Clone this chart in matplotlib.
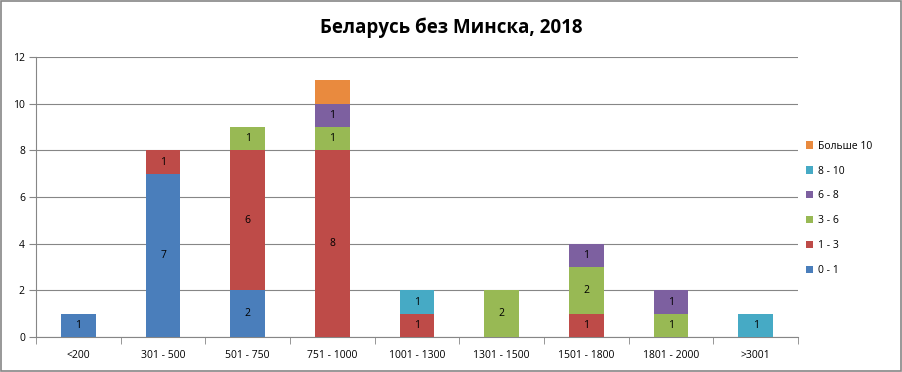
import matplotlib.pyplot as plt
import numpy as np

plt.rcParams['font.family'] = ['Open Sans', 'DejaVu Sans']

categories = ['<200', '301 - 500', '501 - 750', '751 - 1000', '1001 - 1300',
              '1301 - 1500', '1501 - 1800', '1801 - 2000', '>3001']
series_names = ['0 - 1', '1 - 3', '3 - 6', '6 - 8', '8 - 10', 'Больше 10']
s_0_1 = [1, 7, 2, 0, 0, 0, 0, 0, 0]
s_1_3 = [0, 1, 6, 8, 1, 0, 1, 0, 0]
s_3_6 = [0, 0, 1, 1, 0, 2, 2, 1, 0]
s_6_8 = [0, 0, 0, 1, 0, 0, 1, 1, 0]
s_8_10 = [0, 0, 0, 0, 1, 0, 0, 0, 1]
s_10p = [0, 0, 0, 1, 0, 0, 0, 0, 0]
series = [s_0_1, s_1_3, s_3_6, s_6_8, s_8_10, s_10p]
show_labels = [True, True, True, True, True, False]

colors = ['#4A7EBB', '#BE4B48', '#98B954', '#7D60A0', '#46AAC5', '#E98A3E']

fig = plt.figure(figsize=(9.03, 3.72), dpi=100)
ax = fig.add_axes([0.0399, 0.094, 0.8438, 0.7528])

x = np.arange(len(categories))
bottom = np.zeros(len(categories))
handles = []
for vals, name, col, lab in zip(series, series_names, colors, show_labels):
    vals = np.array(vals, dtype=float)
    b = ax.bar(x, vals, 0.41, bottom=bottom, color=col, label=name, zorder=3)
    handles.append(b)
    if lab:
        for xi, v, bt in zip(x, vals, bottom):
            if v > 0:
                ax.text(xi, bt + v / 2, f'{int(v)}', ha='center', va='center',
                        fontsize=7.5, color='black', zorder=4)
    bottom += vals

ax.set_xlim(-0.5, len(categories) - 0.5)
ax.set_ylim(0, 12)
ax.set_yticks(range(0, 13, 2))
ax.set_xticks(x)
ax.set_xticklabels(categories)
ax.set_xticks(np.arange(-0.5, len(categories), 1), minor=True)
ax.tick_params(axis='x', which='major', length=0, labelsize=7.5, pad=9)
ax.tick_params(axis='x', which='minor', length=5, color='#868686', direction='out')
ax.tick_params(axis='y', length=5, color='#868686', labelsize=7.5, pad=3)
ax.yaxis.grid(True, color='#868686', linewidth=0.8, zorder=0)
for s in ['top', 'right']:
    ax.spines[s].set_visible(False)
for s in ['left', 'bottom']:
    ax.spines[s].set_color('#868686')

leg = fig.legend(handles[::-1], series_names[::-1], loc='upper left',
                 bbox_to_anchor=(0.882, 0.647), frameon=False, fontsize=7.5,
                 handlelength=0.7, handleheight=0.7, handletextpad=0.5,
                 labelspacing=1.33)

fig.text(0.5, 0.925, 'Беларусь без Минска, 2018', ha='center', va='center',
         fontsize=13.5, fontweight='bold')

border = plt.Rectangle((0.001, 0.002), 0.997, 0.995, transform=fig.transFigure,
                       fill=False, edgecolor='#868686', linewidth=1.2)
fig.patches.append(border)

fig.savefig('out.png', dpi=100, facecolor='white')
